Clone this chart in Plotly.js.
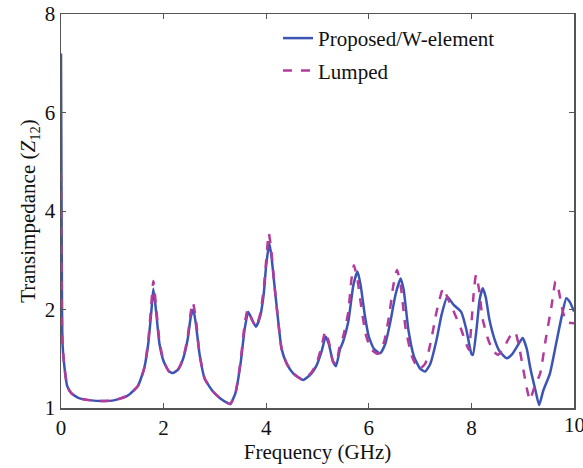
<!DOCTYPE html>
<html><head><meta charset="utf-8">
<script src="https://cdn.plot.ly/plotly-3.0.1.min.js"></script>
<style>
html,body{margin:0;padding:0;background:#fff}
#c{width:583px;height:468px}
</style>
</head><body><div id="c"></div>
<script>
// Frequency (GHz) and transimpedance, in axis units (tick labels below)
const freqProposed = [0,0.01,0.02,0.03,0.06,0.12,0.2,0.35,0.55,0.8,1.05,1.3,1.5,1.62,1.7,1.76,1.8,1.85,1.92,2.0,2.1,2.18,2.28,2.38,2.47,2.53,2.58,2.63,2.7,2.8,2.95,3.1,3.25,3.3,3.4,3.5,3.58,3.65,3.72,3.8,3.88,3.95,4.0,4.06,4.1,4.16,4.22,4.3,4.4,4.53,4.72,4.88,4.98,5.08,5.16,5.22,5.3,5.36,5.44,5.5,5.6,5.7,5.78,5.84,5.92,6.0,6.1,6.22,6.32,6.42,6.52,6.62,6.68,6.77,6.88,7.0,7.1,7.2,7.32,7.42,7.53,7.65,7.8,7.9,8.0,8.03,8.1,8.16,8.22,8.28,8.35,8.45,8.55,8.69,8.8,8.92,9.0,9.08,9.15,9.25,9.32,9.4,9.53,9.65,9.76,9.85,9.92,10.0];
const valProposed  = [7.2,4.5,2.0,1.3,0.9,0.45,0.3,0.2,0.16,0.14,0.16,0.25,0.45,0.8,1.3,1.95,2.42,2.0,1.3,0.95,0.75,0.71,0.78,1.0,1.4,1.85,2.0,1.7,1.1,0.6,0.35,0.2,0.1,0.08,0.3,0.9,1.6,1.95,1.8,1.65,1.85,2.3,2.9,3.35,3.1,2.5,1.9,1.2,0.9,0.7,0.57,0.7,0.86,1.15,1.45,1.3,0.95,0.85,1.2,1.35,1.75,2.5,2.77,2.5,1.9,1.45,1.2,1.11,1.3,1.75,2.3,2.63,2.4,1.6,1.05,0.8,0.74,0.9,1.38,1.9,2.26,2.1,1.95,1.6,1.1,1.08,1.6,2.2,2.43,2.25,1.8,1.4,1.15,1.01,1.1,1.3,1.42,1.2,0.8,0.35,0.06,0.35,0.7,1.3,1.86,2.23,2.15,1.96];
const freqLumped = [0,0.01,0.02,0.03,0.06,0.12,0.2,0.35,0.55,0.8,1.05,1.3,1.5,1.62,1.7,1.76,1.8,1.85,1.92,2.0,2.1,2.18,2.28,2.38,2.47,2.53,2.57,2.63,2.7,2.8,2.95,3.1,3.25,3.3,3.4,3.5,3.58,3.64,3.72,3.8,3.88,3.95,4.0,4.05,4.1,4.16,4.22,4.3,4.4,4.53,4.72,4.88,4.98,5.08,5.15,5.22,5.3,5.36,5.44,5.5,5.6,5.66,5.71,5.78,5.86,5.94,6.04,6.18,6.3,6.4,6.48,6.55,6.62,6.72,6.84,6.95,7.0,7.1,7.22,7.32,7.45,7.55,7.68,7.8,7.9,7.95,8.0,8.05,8.09,8.15,8.22,8.33,8.43,8.52,8.62,8.75,8.85,8.92,9.0,9.08,9.14,9.22,9.34,9.45,9.56,9.64,9.7,9.76,9.85,10.0];
const valLumped  = [4.77,3.0,1.7,1.3,0.9,0.45,0.3,0.2,0.16,0.14,0.16,0.25,0.45,0.8,1.35,2.1,2.58,2.1,1.35,0.95,0.75,0.71,0.78,1.0,1.45,1.95,2.15,1.8,1.1,0.6,0.35,0.2,0.1,0.08,0.3,0.95,1.7,2.0,1.8,1.65,1.9,2.4,3.0,3.55,3.2,2.5,1.9,1.2,0.9,0.7,0.57,0.72,0.9,1.25,1.55,1.35,0.95,0.9,1.3,1.45,1.95,2.6,2.9,2.6,2.0,1.5,1.2,1.1,1.35,1.9,2.5,2.8,2.5,1.6,1.05,0.82,0.8,0.9,1.4,1.95,2.43,2.2,1.9,1.6,1.3,1.18,1.7,2.4,2.7,2.4,1.8,1.38,1.15,1.08,1.2,1.45,1.55,1.3,0.85,0.4,0.16,0.4,0.7,1.4,2.06,2.57,2.4,2.06,1.75,1.72];
const xTicks = [0,2,4,6,8,10];
const yTickVals = [0,2,4,6,8];
const yTickText = ["1","2","4","6","8"];

const font = "Liberation Serif";
const fs = 21;
const traces = [
  {x: freqProposed, y: valProposed, name: "Proposed/W-element", type: "scatter", mode: "lines", legendgroup: "a",
   line: {color: "#3c55b5", width: 2.5, shape: "spline", smoothing: 0.5}},
  {x: freqLumped, y: valLumped, name: "Lumped", type: "scatter", mode: "lines", legendgroup: "b",
   line: {color: "#b23c9c", width: 2.5, dash: "dash", shape: "spline", smoothing: 0.5}}
];
const layout = {
  width: 583, height: 468,
  margin: {l: 61, r: 9, t: 14, b: 60},
  paper_bgcolor: "#fff", plot_bgcolor: "#fff",
  font: {family: font, size: fs, color: "#111"},
  showlegend: true,
  legend: {x: 0.423, y: 0.99, xanchor: "left", yanchor: "top", bgcolor: "rgba(0,0,0,0)",
           font: {family: font, size: fs, color: "#111"}, tracegroupgap: 2},
  xaxis: {range: [0, 10], tickvals: xTicks.slice(0, -1), ticktext: xTicks.slice(0, -1).map(String),
          ticks: "inside", ticklen: 5, tickcolor: "#555", showgrid: false, zeroline: false,
          showline: true, linecolor: "#555", linewidth: 1.5, mirror: "ticks",
          tickfont: {family: font, size: fs, color: "#111"},
          title: {text: "Frequency (GHz)", font: {family: font, size: fs, color: "#111"}, standoff: 5}},
  yaxis: {range: [0, 8], tickvals: yTickVals, ticktext: yTickText,
          ticks: "inside", ticklen: 5, tickcolor: "#555", showgrid: false, zeroline: false,
          showline: true, linecolor: "#555", linewidth: 1.5, mirror: "ticks",
          tickfont: {family: font, size: fs, color: "#111"},
          title: {text: "Transimpedance (<i>Z</i><sub>12</sub>)", font: {family: font, size: fs, color: "#111"}, standoff: 3}},
  annotations: [{x: xTicks[xTicks.length - 1], y: 0, xref: "x", yref: "paper", yanchor: "top", xanchor: "center",
                 yshift: -3, showarrow: false, text: String(xTicks[xTicks.length - 1]),
                 font: {family: font, size: fs, color: "#111"}}]
};
Plotly.newPlot("c", traces, layout, {displayModeBar: false, staticPlot: true});
</script></body></html>
